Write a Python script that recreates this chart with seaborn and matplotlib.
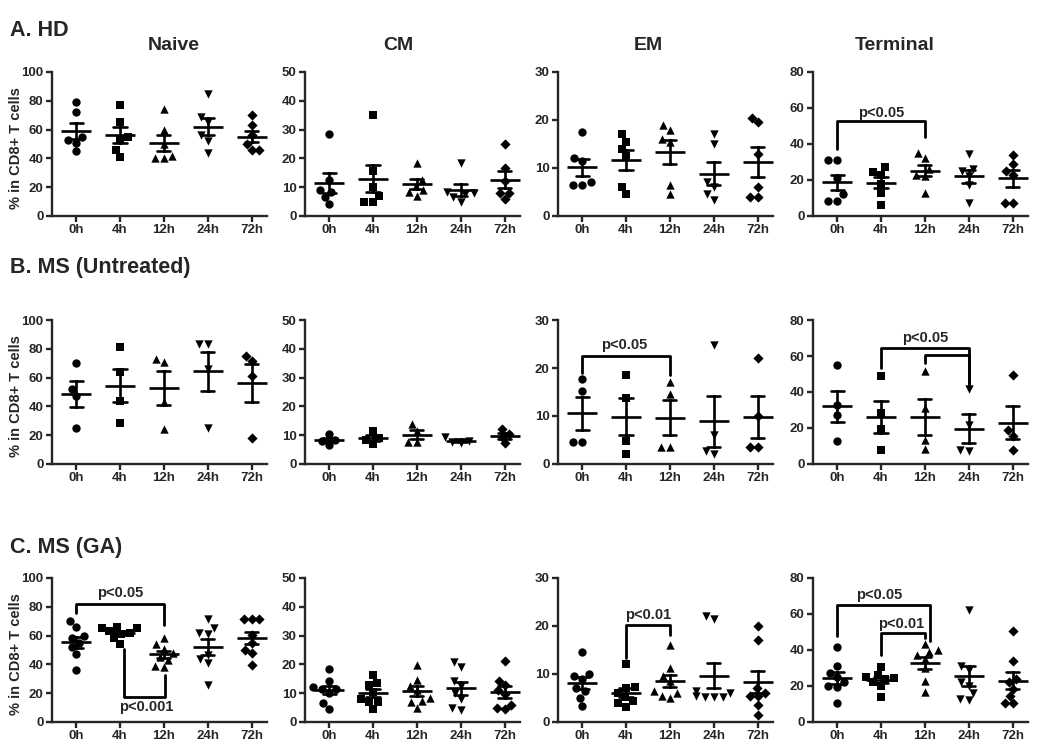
import matplotlib
matplotlib.use('Agg')
import matplotlib.pyplot as plt
import pandas as pd
import seaborn as sns

sns.set_style('ticks')
plt.rcParams['font.family'] = ['Liberation Sans', 'DejaVu Sans']
plt.rcParams['font.weight'] = 'bold'

times = ['0h', '4h', '12h', '24h', '72h']
markers = ['o', 's', '^', 'v', 'D']
subsets = ['Naive', 'CM', 'EM', 'Terminal']
groups = ['A. HD', 'B. MS (Untreated)', 'C. MS (GA)']
y_max = [100, 50, 30, 80]

# values, one list per time point
hd_naive = [[79, 72, 55, 53, 51, 45], [77, 65, 55, 53, 46, 41], [74, 60, 50, 42, 40, 40],
            [85, 69, 65, 56, 52, 44], [70, 63, 56, 50, 46, 46]]
hd_cm = [[28.3, 12.5, 9, 8.5, 6.5, 4], [35, 15.5, 10, 7, 5, 5], [18.5, 12.5, 10.5, 9, 8.5, 7],
         [18.5, 8.5, 8, 7.5, 6.5, 5], [25, 16.5, 12, 8, 8, 6]]
hd_em = [[17.5, 12, 11.5, 7, 6.5, 6.5], [17, 15.5, 14, 12.5, 6, 4.5], [19, 18, 16, 15.5, 6.5, 4.5],
         [17, 15, 7, 6, 4.5, 3.3], [20.5, 19.5, 13, 6, 4, 4]]
hd_term = [[31, 31, 21, 12, 8.5, 8.5], [27, 24.5, 23, 18, 13, 6], [35, 32, 26, 23, 22, 13],
           [34.5, 26, 25, 22, 17, 7.5], [34, 29, 25, 23, 7, 7]]

ms_naive = [[70, 52, 47, 25], [81, 64, 43.5, 28.5], [73, 70.5, 43, 24], [83, 83, 66, 25], [75, 71.5, 61, 18]]
ms_cm = [[10.5, 8.5, 8, 6.5], [11.5, 9, 8.5, 7], [13.8, 11.5, 7.5, 7.5], [9.5, 8, 7.8, 7.3], [12, 10.5, 9.5, 7.2]]
ms_em = [[17.8, 15.2, 4.6, 4.6], [18.6, 13.8, 4.8, 2.1], [17, 14.6, 3.5, 3.5], [24.8, 6, 2.8, 2], [22, 10, 3.6, 3.6]]
ms_term = [[55, 33, 27, 13], [48.7, 28.5, 19.5, 7.7], [51.8, 31.2, 13.4, 8.3], [41.4, 21.7, 8, 7],
           [49.6, 18.8, 15.6, 8]]

ga_naive = [[70, 66, 60, 58, 55, 52, 47, 36], [66, 65, 65, 63, 62, 61, 58, 54], [58, 54, 51, 48, 45, 43, 39, 38],
            [71.6, 65, 61.6, 61, 46.5, 43.5, 40.7, 25.6], [71.6, 71.6, 71.6, 60.5, 55, 50, 47.7, 39.5]]
ga_cm = [[18.4, 14.3, 12, 11.6, 11.6, 10, 6.5, 4.4], [16.3, 13.7, 13, 10.5, 8, 7, 7, 4.4],
         [19.8, 14.5, 12.6, 11, 8.5, 7.3, 7, 5], [20.7, 19, 14.3, 12.5, 10, 7.9, 5, 4.2],
         [21.3, 14.3, 12.8, 11, 9.7, 5.8, 4.4, 4.8]]
ga_em = [[14.5, 10, 9.5, 9, 7, 6.5, 5, 3.3], [12, 7.3, 7, 6, 5.2, 4.3, 4, 3.2],
         [16, 11.2, 9.5, 8.5, 6.5, 6, 5.5, 5], [22, 21.4, 6.5, 6, 5.5, 5.2, 5.2, 5.2],
         [20, 17.1, 7, 6, 5.5, 5.5, 3.6, 1.5]]
ga_term = [[41.4, 31, 27.5, 25, 22, 20, 19.5, 10.5], [30.3, 26, 25, 24.5, 24, 22, 20, 14],
           [43.2, 40, 39, 37, 35, 30, 23, 16.5], [62, 31, 29, 22, 20, 16, 12, 13],
           [50.5, 34, 24, 22, 18.4, 14.2, 10.5, 10.5]]

data = [[hd_naive, hd_cm, hd_em, hd_term],
        [ms_naive, ms_cm, ms_em, ms_term],
        [ga_naive, ga_cm, ga_em, ga_term]]

# significance brackets: row, col, x1, x2, bar height, left end, right end
brackets = [(0, 3, 0, 2, 52.7, 37, 44),
            (1, 2, 0, 2, 22.6, 19, 18.6),
            (1, 3, 1, 3, 64.3, 53.3, 41.4),
            (1, 3, 2, 3, 60.7, 56, 41.4),
            (2, 0, 0, 2, 81.9, 75.6, 67.4),
            (2, 0, 1.1, 2.03, 17.4, 51, 32.6),
            (2, 2, 1, 2, 20.2, 13.3, 18.1),
            (2, 3, 0, 2.12, 64.9, 47.8, 45),
            (2, 3, 1, 2, 49.6, 37.3, 46.9)]
p_labels = [(0, 3, 1.0, 57, 'p<0.05'),
            (1, 2, 0.95, 24.8, 'p<0.05'),
            (1, 3, 2.0, 70, 'p<0.05'),
            (2, 0, 1.0, 89.5, 'p<0.05'),
            (2, 0, 1.6, 10.5, 'p<0.001'),
            (2, 2, 1.5, 22.3, 'p<0.01'),
            (2, 3, 0.95, 70.4, 'p<0.05'),
            (2, 3, 1.45, 54.6, 'p<0.01')]

W, H = 1050, 753
fig = plt.figure(figsize=(W / 100, H / 100), dpi=100)
lefts = [52, 305, 558, 813]
tops = [72, 320, 578]
aw, ah = 215, 144
axes = {}

for r in range(3):
    for c in range(4):
        ax = fig.add_axes([lefts[c] / W, 1 - (tops[r] + ah) / H, aw / W, ah / H])
        axes[(r, c)] = ax
        rows = [(t, v) for t, vs in zip(times, data[r][c]) for v in vs]
        df = pd.DataFrame(rows, columns=['time', 'value'])
        ax.set_ylim(0, y_max[c])
        for t, m in zip(times, markers):
            sns.swarmplot(data=df[df.time == t], x='time', y='value', order=times, marker=m,
                          color='black', size=5.2 if m == 'D' else 6, ax=ax)
        sns.pointplot(data=df, x='time', y='value', order=times, errorbar='se', capsize=0.3,
                      linestyle='none', marker='_', markersize=22, markeredgewidth=1.9,
                      color='black', err_kws={'linewidth': 1.9}, ax=ax)
        ax.set_xlim(-0.55, 4.35)
        ax.set_ylim(0, y_max[c])
        ax.set_yticks(range(0, y_max[c] + 1, 20 if y_max[c] >= 80 else 10))
        ax.set_xlabel('')
        ax.set_ylabel('')
        sns.despine(ax=ax)
        for s in ['left', 'bottom']:
            ax.spines[s].set_linewidth(1.7)
        ax.tick_params(width=1.7, length=4, labelsize=9.5, pad=2)
        for lab in ax.get_xticklabels() + ax.get_yticklabels():
            lab.set_fontweight('bold')

for r, c, x1, x2, yb, e1, e2 in brackets:
    axes[(r, c)].plot([x1, x1, x2, x2], [e1, yb, yb, e2], color='black', lw=2, clip_on=False)
for r, c, x, y, txt in p_labels:
    axes[(r, c)].text(x, y, txt, ha='center', va='center', fontsize=10.5, fontweight='bold')

for r, g in enumerate(groups):
    fig.text(10 / W, 1 - [31, 268, 548][r] / H, g, fontsize=15.5, fontweight='bold', va='center')
    fig.text(16 / W, 1 - (tops[r] + ah / 2 + 4) / H, '% in CD8+ T cells', rotation=90,
             fontsize=10.5, fontweight='bold', ha='center', va='center')
for c, s in enumerate(subsets):
    fig.text([174, 398, 648, 895][c] / W, 1 - 46 / H, s, fontsize=14, fontweight='bold',
             ha='center', va='center')

fig.savefig('out.png', dpi=100)
